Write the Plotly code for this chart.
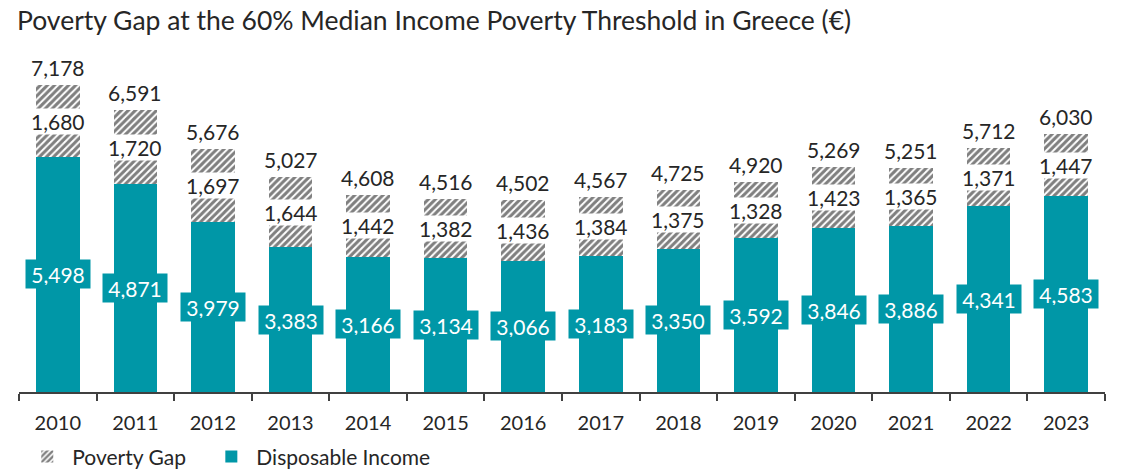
import plotly.graph_objects as go

years = ["2010", "2011", "2012", "2013", "2014", "2015", "2016", "2017", "2018", "2019", "2020", "2021", "2022", "2023"]
disposable_income = [5498, 4871, 3979, 3383, 3166, 3134, 3066, 3183, 3350, 3592, 3846, 3886, 4341, 4583]
poverty_gap = [1680, 1720, 1697, 1644, 1442, 1382, 1436, 1384, 1375, 1328, 1423, 1365, 1371, 1447]
totals = [7178, 6591, 5676, 5027, 4608, 4516, 4502, 4567, 4725, 4920, 5269, 5251, 5712, 6030]

TEAL = "#0097A7"
TXT = "#262626"
FONT = "Lato"

fig = go.Figure()
fig.add_trace(go.Bar(
    x=years, y=disposable_income, name="Disposable Income",
    marker=dict(color=TEAL, line=dict(width=0)), width=0.56,
    legend="legend2",
))
fig.add_trace(go.Bar(
    x=years, y=poverty_gap, name="Poverty Gap",
    marker=dict(color="white", line=dict(width=0),
                pattern=dict(shape="/", fgcolor="black", bgcolor="white", size=5, solidity=0.6)),
    width=0.56, legend="legend",
))

fmt = lambda v: f"{v:,}"
for i, yr in enumerate(years):
    d, g, t = disposable_income[i], poverty_gap[i], totals[i]
    fig.add_annotation(x=i, y=d / 2, text=fmt(d), showarrow=False,
                       font=dict(family=FONT, size=21, color="white"),
                       bgcolor=TEAL, borderpad=3, width=58, height=22)
    fig.add_annotation(x=i, y=d + g / 2, text=fmt(g), showarrow=False,
                       font=dict(family=FONT, size=21, color=TXT),
                       bgcolor="white", borderpad=0)
    fig.add_annotation(x=i, y=t, text=fmt(t), showarrow=False, yanchor="bottom",
                       font=dict(family=FONT, size=21, color=TXT), yshift=3)

legend_style = dict(orientation="h", xanchor="left", y=0.043, yanchor="middle",
                    yref="container", font=dict(family=FONT, size=21, color=TXT),
                    itemwidth=40, bgcolor="rgba(0,0,0,0)")

fig.update_layout(
    barmode="stack",
    width=1125, height=469,
    margin=dict(l=11, r=28, t=42, b=85, autoexpand=False),
    paper_bgcolor="white", plot_bgcolor="white",
    title=dict(text="Poverty Gap at the 60% Median Income Poverty Threshold in Greece (€)",
               x=0.008, xanchor="left", y=0.972, yanchor="middle",
               font=dict(family=FONT, size=26.5, color=TXT)),
    font=dict(family=FONT, color=TXT),
    showlegend=True,
    legend=dict(x=0.003, **legend_style),
    legend2=dict(x=0.1725, **legend_style),
)
fig.update_xaxes(type="category", range=[-0.5, len(years) - 0.5],
                 showline=True, linecolor="#404040", linewidth=1.5,
                 ticks="outside", tickson="boundaries", ticklen=7, tickcolor="#404040",
                 tickwidth=1.5, tickfont=dict(family=FONT, size=20, color=TXT),
                 ticklabelstandoff=12,
                 showgrid=False, fixedrange=True)
fig.update_yaxes(range=[0, 8000], visible=False, showgrid=False)

fig.write_html("out.html")
